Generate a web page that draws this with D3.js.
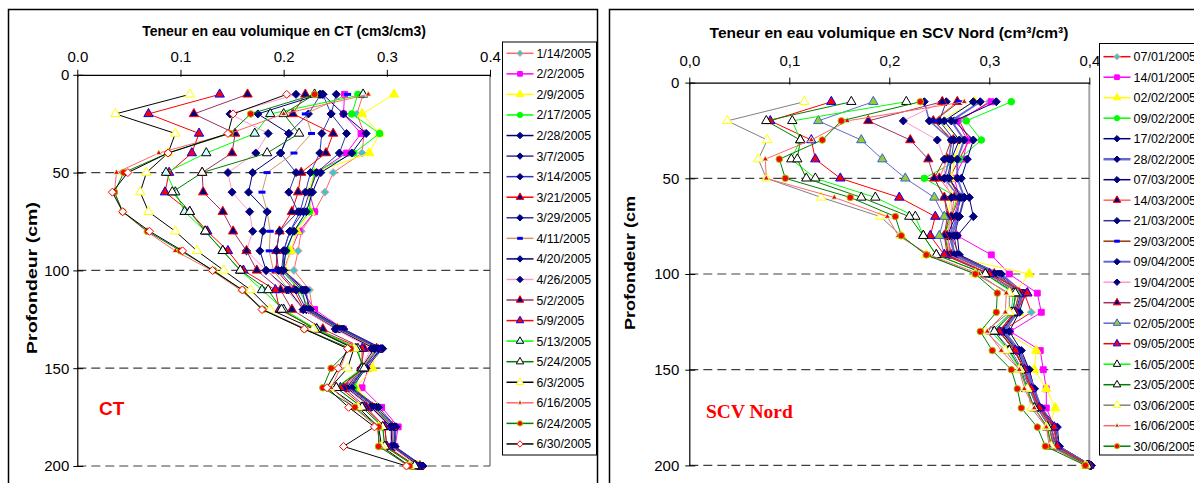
<!DOCTYPE html>
<html><head><meta charset="utf-8">
<script src="https://cdn.jsdelivr.net/npm/d3@7"></script>
<style>
body{margin:0;background:#fff;}
svg{display:block;font-family:"Liberation Sans",Arial,sans-serif;}
</style></head><body>
<svg id="c" width="1194" height="483"></svg>
<script>
// ---------------- DATA ----------------
const depths = [10,20,30,40,50,60,70,80,90,100,110,120,130,140,150,160,170,180,190,200];
const xTicks = [0,0.1,0.2,0.3,0.4];
const yTicks = [0,50,100,150,200];
const gridDepths = [50,100,150,200];

const ctTitle = "Teneur en eau volumique en CT (cm3/cm3)";
const scvTitle = "Teneur en eau volumique en SCV Nord (cm\u00B3/cm\u00B3)";

const ctDates = ["1/14/2005","2/2/2005","2/9/2005","2/17/2005","2/28/2005","3/7/2005","3/14/2005","3/21/2005","3/29/2005","4/11/2005","4/20/2005","4/26/2005","5/2/2005","5/9/2005","5/13/2005","5/24/2005","6/3/2005","6/16/2005","6/24/2005","6/30/2005"];
const ctValues = [
 [0.277,0.271,0.278,0.276,0.248,0.240,0.230,0.217,0.214,0.210,0.225,0.228,0.255,0.290,0.278,0.268,0.290,0.305,0.305,0.332],
 [0.259,0.258,0.275,0.261,0.232,0.225,0.230,0.215,0.207,0.200,0.218,0.230,0.258,0.293,0.282,0.276,0.295,0.311,0.308,0.333],
 [0.307,0.276,0.293,0.283,0.230,0.224,0.226,0.213,0.207,0.201,0.215,0.226,0.254,0.290,0.286,0.270,0.290,0.305,0.305,0.330],
 [0.272,0.266,0.293,0.268,0.230,0.226,0.225,0.210,0.203,0.198,0.215,0.225,0.255,0.290,0.278,0.268,0.288,0.305,0.305,0.330],
 [0.238,0.258,0.280,0.266,0.236,0.228,0.222,0.210,0.202,0.200,0.220,0.226,0.258,0.295,0.278,0.265,0.290,0.308,0.307,0.335],
 [0.251,0.246,0.261,0.254,0.232,0.225,0.219,0.206,0.200,0.200,0.222,0.224,0.258,0.296,0.280,0.266,0.292,0.309,0.308,0.335],
 [0.238,0.246,0.237,0.235,0.226,0.221,0.216,0.206,0.200,0.198,0.218,0.222,0.256,0.294,0.278,0.264,0.290,0.308,0.307,0.334],
 [0.221,0.209,0.248,0.241,0.217,0.214,0.208,0.196,0.193,0.193,0.210,0.220,0.252,0.290,0.276,0.262,0.286,0.305,0.305,0.332],
 [0.236,0.224,0.205,0.197,0.212,0.205,0.214,0.196,0.193,0.195,0.212,0.222,0.254,0.292,0.277,0.263,0.288,0.306,0.306,0.333],
 [0.262,0.221,0.227,0.210,0.184,0.179,0.184,0.187,0.186,0.190,0.205,0.220,0.252,0.290,0.276,0.262,0.286,0.305,0.305,0.332],
 [0.235,0.175,0.205,0.197,0.170,0.166,0.184,0.180,0.177,0.183,0.205,0.219,0.251,0.288,0.275,0.261,0.285,0.304,0.305,0.331],
 [0.212,0.148,0.185,0.173,0.146,0.150,0.167,0.170,0.164,0.183,0.203,0.219,0.250,0.285,0.275,0.260,0.284,0.303,0.304,0.330],
 [0.165,0.113,0.153,0.150,0.121,0.122,0.141,0.151,0.164,0.174,0.197,0.208,0.238,0.278,0.275,0.258,0.280,0.298,0.300,0.328],
 [0.138,0.069,0.118,0.111,0.089,0.085,0.109,0.126,0.146,0.161,0.192,0.196,0.232,0.276,0.276,0.255,0.278,0.298,0.300,0.328],
 [0.277,0.187,0.172,0.125,0.086,0.095,0.104,0.124,0.141,0.158,0.179,0.200,0.232,0.272,0.276,0.251,0.276,0.296,0.298,0.327],
 [0.230,0.200,0.215,0.184,0.121,0.092,0.109,0.124,0.141,0.158,0.185,0.198,0.230,0.270,0.278,0.251,0.276,0.296,0.298,0.327],
 [0.109,0.037,0.095,0.088,0.067,0.061,0.069,0.095,0.116,0.142,0.168,0.187,0.229,0.268,0.262,0.245,0.272,0.292,0.295,0.322],
 [0.282,0.200,0.148,0.079,0.038,0.036,0.044,0.067,0.095,0.130,0.158,0.180,0.222,0.262,0.255,0.246,0.268,0.290,0.294,0.320],
 [0.230,0.168,0.148,0.088,0.045,0.036,0.044,0.068,0.100,0.132,0.160,0.180,0.220,0.265,0.246,0.238,0.269,0.292,0.292,0.322],
 [0.203,0.151,0.146,0.088,0.049,0.034,0.044,0.070,0.102,0.131,0.160,0.179,0.220,0.262,0.253,0.242,0.263,0.288,0.258,0.319]
];

const scvDates = ["07/01/2005","14/01/2005","02/02/2005","09/02/2005","17/02/2005","28/02/2005","07/03/2005","14/03/2005","21/03/2005","29/03/2005","09/04/2005","19/04/2005","25/04/2005","02/05/2005","09/05/2005","16/05/2005","23/05/2005","03/06/2005","16/06/2005","30/06/2005"];
const scvValues = [
 [0.300,0.270,0.280,0.270,0.260,0.270,0.262,0.262,0.270,0.310,0.335,0.342,0.312,0.330,0.340,0.345,0.352,0.362,0.366,0.400],
 [0.302,0.268,0.278,0.274,0.265,0.270,0.265,0.268,0.302,0.320,0.348,0.352,0.321,0.351,0.354,0.357,0.357,0.365,0.368,0.400],
 [0.285,0.250,0.272,0.265,0.262,0.262,0.258,0.258,0.255,0.340,0.325,0.330,0.315,0.347,0.345,0.357,0.366,0.360,0.362,0.397],
 [0.322,0.277,0.292,0.270,0.235,0.268,0.262,0.255,0.262,0.305,0.330,0.330,0.310,0.328,0.336,0.342,0.350,0.360,0.365,0.400],
 [0.307,0.265,0.284,0.278,0.272,0.280,0.284,0.268,0.270,0.310,0.336,0.330,0.320,0.332,0.340,0.345,0.352,0.368,0.370,0.402],
 [0.291,0.262,0.275,0.268,0.268,0.275,0.270,0.262,0.265,0.312,0.334,0.328,0.315,0.330,0.338,0.345,0.352,0.365,0.368,0.401],
 [0.284,0.255,0.270,0.262,0.260,0.272,0.266,0.258,0.262,0.305,0.332,0.326,0.312,0.328,0.336,0.342,0.350,0.362,0.367,0.401],
 [0.268,0.244,0.264,0.258,0.250,0.265,0.262,0.258,0.262,0.305,0.338,0.325,0.310,0.325,0.335,0.342,0.348,0.362,0.365,0.400],
 [0.257,0.250,0.265,0.262,0.258,0.275,0.270,0.265,0.268,0.308,0.333,0.327,0.313,0.330,0.336,0.344,0.351,0.366,0.370,0.402],
 [0.270,0.245,0.262,0.255,0.245,0.255,0.260,0.255,0.260,0.300,0.330,0.325,0.310,0.325,0.335,0.340,0.348,0.360,0.364,0.398],
 [0.235,0.240,0.262,0.260,0.255,0.270,0.268,0.260,0.265,0.305,0.332,0.328,0.314,0.330,0.336,0.343,0.350,0.364,0.369,0.401],
 [0.253,0.214,0.248,0.255,0.255,0.262,0.262,0.258,0.260,0.300,0.330,0.325,0.310,0.326,0.335,0.340,0.350,0.362,0.366,0.400],
 [0.253,0.179,0.221,0.239,0.245,0.255,0.258,0.255,0.258,0.300,0.330,0.325,0.310,0.325,0.335,0.340,0.350,0.362,0.366,0.400],
 [0.184,0.129,0.172,0.193,0.216,0.245,0.255,0.250,0.255,0.298,0.328,0.322,0.305,0.322,0.333,0.340,0.348,0.360,0.365,0.399],
 [0.142,0.081,0.122,0.126,0.151,0.210,0.246,0.241,0.255,0.300,0.338,0.326,0.310,0.326,0.335,0.342,0.350,0.365,0.368,0.400],
 [0.217,0.103,0.111,0.102,0.126,0.186,0.226,0.234,0.247,0.296,0.324,0.322,0.302,0.319,0.331,0.337,0.345,0.358,0.362,0.398],
 [0.162,0.077,0.111,0.108,0.117,0.172,0.220,0.234,0.247,0.296,0.326,0.324,0.305,0.320,0.332,0.338,0.345,0.358,0.362,0.398],
 [0.115,0.038,0.078,0.069,0.077,0.132,0.191,0.212,0.237,0.286,0.320,0.320,0.296,0.316,0.330,0.338,0.342,0.357,0.362,0.396],
 [0.275,0.158,0.122,0.076,0.077,0.145,0.198,0.209,0.240,0.290,0.317,0.316,0.298,0.312,0.330,0.335,0.345,0.357,0.360,0.397],
 [0.231,0.152,0.133,0.090,0.096,0.161,0.206,0.212,0.237,0.286,0.308,0.307,0.291,0.303,0.322,0.328,0.332,0.348,0.356,0.396]
];

// ---------------- STYLES ----------------
const ctLineColors = ["#FF6666","#FF00FF","#FFFF00","#00FF00","#000080","#333399","#3333CC","#FF0000","#333399","#CC9966","#000080","#FF99CC","#993366","#FF0000","#00FF00","#008000","#000000","#FF6666","#008000","#000000"];
const ctMarkers = [
 ["diamond","#33CCCC","#FF9999"],["square","#FF00FF","#FF00FF"],["triangle","#FFFF00","#FFFF00"],["circle","#00FF00","#00FF00"],
 ["diamond","#000080","#000080"],["diamond","#000080","#000080"],["diamond","#000080","#000080"],["triangle","#000080","#FF0000"],
 ["diamond","#000080","#000080"],["dash","#0000FF","#0000FF"],["diamond","#000080","#000080"],["diamond","#000080","#000080"],
 ["triangle","#000080","#FF0000"],["triangle","#FF0000","#0000FF"],["triangle","#CCFFFF","#000000"],["triangle","#FFFFFF","#000000"],
 ["triangle","#FFFFFF","#FFFF00"],["smalltri","#FF0000","#CCFFCC"],["circle","#FF0000","#99CC00"],["diamond","#FFFFFF","#FF0000"]
];
const scvLineColors = ["#FF0000","#FF00FF","#FFFF00","#00FF00","#000080","#6666CC","#000080","#FF6666","#333399","#993300","#6666CC","#FF99CC","#993366","#6666CC","#FF0000","#00FF00","#008000","#808080","#FF6666","#008000"];
const scvLineWidths = [1,1,1,1,1,2,1,1,1,1,1.5,1,1,1,1,1,1,1,1,1];
const scvMarkers = [
 ["diamond","#33CCCC","#FF9999"],["square","#FF00FF","#FF00FF"],["triangle","#FFFF00","#FFFF00"],["circle","#00FF00","#00FF00"],
 ["diamond","#000080","#000080"],["diamond","#000080","#000080"],["diamond","#000080","#000080"],["triangle","#000080","#FF0000"],
 ["diamond","#000080","#000080"],["dash","#0000FF","#0000FF"],["diamond","#000080","#000080"],["diamond","#000080","#000080"],
 ["triangle","#000080","#FF0000"],["triangle","#99CC33","#3366CC"],["triangle","#FF0000","#0000FF"],["triangle","#FFFFFF","#000000"],
 ["triangle","#FFFFFF","#000000"],["triangle","#FFFFFF","#FFFF00"],["smalltri","#FF0000","#CCFFCC"],["circle","#FF0000","#99CC00"]
];

// ---------------- DRAW ----------------
const svg = d3.select("#c");

function drawMarker(g, m, cx, cy, scale) {
  const [shape, fill, stroke] = m;
  const k = scale || 1;
  if (shape === "dash") {
    g.append("rect").attr("x", cx - 3.5*k).attr("y", cy - 1.5).attr("width", 7*k).attr("height", 3).attr("fill", fill);
    return;
  }
  if (shape === "diamond") {
    const r = 4 * k;
    g.append("path").attr("d", `M${cx},${cy-r}L${cx+r},${cy}L${cx},${cy+r}L${cx-r},${cy}Z`)
      .attr("fill", fill).attr("stroke", stroke).attr("stroke-width", 1);
    return;
  }
  const types = {square: d3.symbolSquare, triangle: d3.symbolTriangle, smalltri: d3.symbolTriangle, circle: d3.symbolCircle};
  const sizes = {square: 34, triangle: 38, smalltri: 16, circle: 34};
  g.append("path")
    .attr("transform", `translate(${cx},${cy})`)
    .attr("d", d3.symbol().type(types[shape]).size(sizes[shape] * k * k)())
    .attr("fill", fill).attr("stroke", stroke).attr("stroke-width", 1);
}

function drawChart(o) {
  const g = svg.append("g");
  g.append("rect").attr("x", o.fx).attr("y", o.fy).attr("width", o.fw).attr("height", o.fh)
    .attr("fill", "#fff").attr("stroke", "#000").attr("stroke-width", 1.5);

  const x = d3.scaleLinear().domain([0, 0.4]).range([o.x0, o.x1]);
  const y = d3.scaleLinear().domain([0, 200]).range([o.y0, o.y1]);

  g.append("line").attr("x1", o.x1).attr("x2", o.x1).attr("y1", o.y0).attr("y2", o.y1)
    .attr("stroke", "#A6A6A6").attr("stroke-width", 2);
  g.selectAll("line.grid").data(gridDepths).join("line").attr("class", "grid")
    .attr("x1", o.x0).attr("x2", o.x1).attr("y1", d => y(d)).attr("y2", d => y(d))
    .attr("stroke", "#404040").attr("stroke-width", 1.2).attr("stroke-dasharray", "9,5");

  const ax = d3.axisTop(x).tickValues(xTicks).tickFormat(o.fmt).tickSize(5).tickSizeOuter(0).tickPadding(o.xPad);
  const gx = g.append("g").attr("transform", `translate(0,${o.y0})`).call(ax);
  gx.selectAll(".tick line").attr("y1", 2).attr("stroke", "#000");
  gx.select(".domain").attr("stroke", "#000").attr("stroke-width", 1.2);
  gx.selectAll("text").attr("font-size", o.tickFont).attr("font-family", "Liberation Sans, Arial, sans-serif").attr("fill", "#000");

  const ay = d3.axisLeft(y).tickValues(yTicks).tickSize(4).tickSizeOuter(0).tickPadding(o.yPad);
  const gy = g.append("g").attr("transform", `translate(${o.x0},0)`).call(ay);
  gy.selectAll(".tick line").attr("x1", 6).attr("stroke", "#000");
  gy.select(".domain").attr("stroke", "#000").attr("stroke-width", 1.2);
  gy.selectAll("text").attr("font-size", o.tickFont).attr("font-family", "Liberation Sans, Arial, sans-serif").attr("fill", "#000");

  const line = d3.line().x(v => x(v)).y((v, j) => y(depths[j]));
  o.values.forEach((vals, i) => {
    const sg = g.append("g");
    sg.append("path").attr("d", line(vals)).attr("fill", "none")
      .attr("stroke", o.colors[i]).attr("stroke-width", o.widths ? o.widths[i] : 1);
    vals.forEach((v, j) => drawMarker(sg, o.markers[i], x(v), y(depths[j])));
  });

  g.append("text").attr("x", o.titleX).attr("y", o.titleY).attr("text-anchor", "middle")
    .attr("font-weight", "bold").attr("font-size", o.titleFont).text(o.title);
  g.append("text").attr("transform", `translate(${o.ytX},${o.ytY}) rotate(-90)`).attr("text-anchor", "middle")
    .attr("font-weight", "bold").attr("font-size", o.ytFont)
    .attr("textLength", o.ytLen).attr("lengthAdjust", "spacingAndGlyphs").text(o.yTitle);
  g.append("text").attr("x", o.labX).attr("y", o.labY).attr("fill", "#FF0000").attr("font-weight", "bold")
    .attr("font-size", o.labFont).attr("font-family", o.labFamily).text(o.label);

  const lg = g.append("g");
  lg.append("rect").attr("x", o.lx).attr("y", o.ly).attr("width", o.lw).attr("height", o.lh)
    .attr("fill", "#fff").attr("stroke", "#000").attr("stroke-width", 1);
  o.dates.forEach((d, i) => {
    const yy = o.ly0 + i * o.lstep;
    lg.append("line").attr("x1", o.lx + 4).attr("x2", o.lx + 31).attr("y1", yy).attr("y2", yy)
      .attr("stroke", o.colors[i]).attr("stroke-width", o.widths ? o.widths[i] + 0.5 : 1.5);
    drawMarker(lg, o.markers[i], o.lx + 17.5, yy, 0.8);
    lg.append("text").attr("x", o.lx + 34).attr("y", yy + 4.5).attr("font-size", o.legFont).text(d);
  });
}

drawChart({
  fx: 8.5, fy: 9.5, fw: 589, fh: 500,
  x0: 77.3, x1: 490, y0: 74.8, y1: 466,
  fmt: d => d.toFixed(1), xPad: 8, yPad: 4, tickFont: 15,
  values: ctValues, colors: ctLineColors, markers: ctMarkers, dates: ctDates,
  title: ctTitle, titleX: 284, titleY: 36, titleFont: 14,
  yTitle: "Profondeur (cm)", ytX: 37, ytY: 278, ytFont: 14, ytLen: 152,
  label: "CT", labX: 99, labY: 415, labFont: 19, labFamily: "Liberation Sans, Arial, sans-serif",
  lx: 502.5, ly: 42, lw: 94, lh: 413, ly0: 53.3, lstep: 20.56, legFont: 12.3
});

drawChart({
  fx: 609.5, fy: 9.5, fw: 600, fh: 500,
  x0: 689.3, x1: 1089.3, y0: 82.6, y1: 465.4,
  fmt: d => d.toFixed(1).replace(".", ","), xPad: 12, yPad: 6, tickFont: 15,
  values: scvValues, colors: scvLineColors, widths: scvLineWidths, markers: scvMarkers, dates: scvDates,
  title: scvTitle, titleX: 889, titleY: 38, titleFont: 15.5,
  yTitle: "Profondeur (cm", ytX: 635, ytY: 263, ytFont: 14, ytLen: 134,
  label: "SCV Nord", labX: 706, labY: 418, labFont: 19.5, labFamily: "Liberation Serif, Times New Roman, serif",
  lx: 1099.5, ly: 43.5, lw: 120, lh: 411.5, ly0: 56.7, lstep: 20.5, legFont: 12.5
});
</script>
</body></html>
